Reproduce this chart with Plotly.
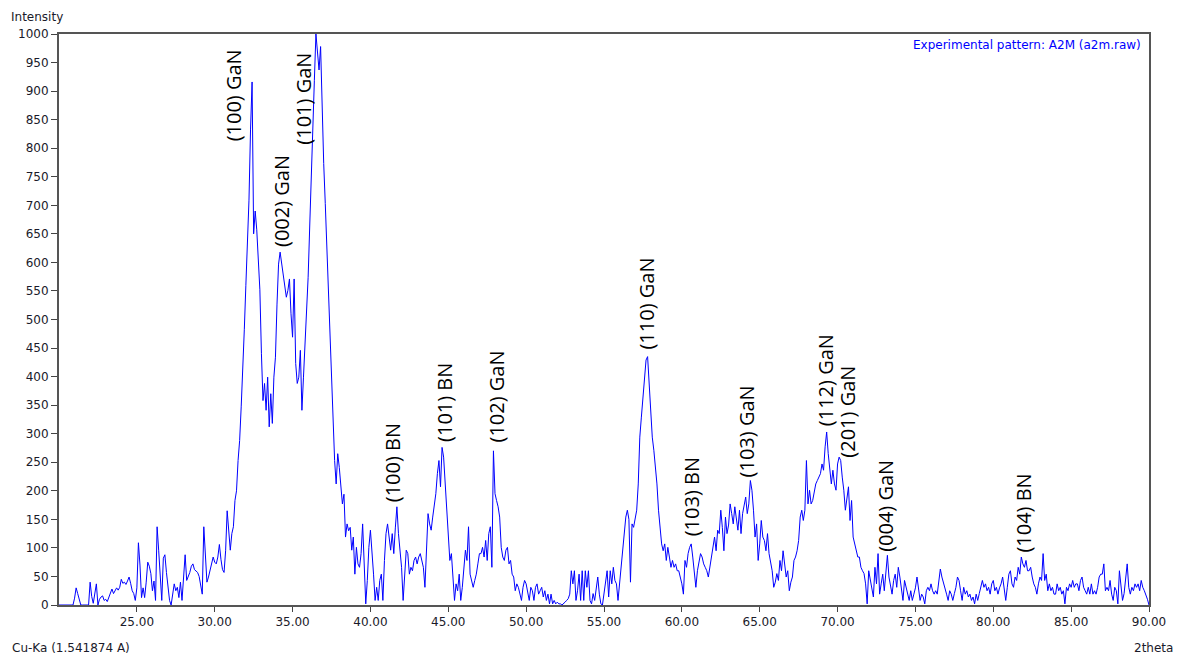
import numpy as np
import plotly.graph_objects as go

# XRD scan: 2theta grid (deg) and measured intensity (counts), 0.1 deg steps
two_theta = np.round(np.arange(20.0, 90.0001, 0.1), 1)

intensity = [
    0, 0, 0, 0, 0, 0, 0, 0, 0, 0,                         # 20
    12, 30, 20, 10, 0, 0, 0, 0, 0, 0,                     # 21
    40, 15, 3, 20, 37, 0, 10, 14, 16, 8,                  # 22
    10, 6, 14, 22, 28, 20, 24, 30, 26, 31,                # 23
    45, 38, 40, 36, 42, 49, 38, 25, 20, 8,                # 24
    30, 109, 70, 13, 30, 13, 40, 75, 68, 55,              # 25
    25, 42, 8, 137, 96, 50, 8, 82, 88, 57,                # 26
    25, 8, 0, 15, 37, 25, 31, 13, 40, 8,                  # 27
    45, 88, 43, 50, 57, 68, 72, 62, 60, 57,               # 28
    50, 37, 19, 137, 90, 40, 49, 60, 70, 84,              # 29
    75, 72, 84, 106, 80, 62, 57, 95, 165, 137,            # 30
    96, 125, 137, 183, 200, 253, 288, 347, 405, 482,      # 31
    560, 634, 709, 832, 916, 650, 690, 657, 610, 552,     # 32
    440, 358, 388, 341, 399, 312, 370, 318, 399, 434,     # 33
    527, 597, 618, 597, 580, 562, 539, 551, 571, 510,     # 34
    469, 571, 423, 388, 399, 446, 341, 399, 458, 510,     # 35
    574, 662, 761, 826, 919, 1000, 972, 937, 978, 855,    # 36
    773, 703, 627, 539, 469, 394, 340, 253, 212, 265,     # 37
    241, 200, 177, 194, 119, 142, 130, 136, 96, 119,      # 38
    54, 101, 72, 66, 90, 142, 78, 2, 43, 101,             # 39
    131, 96, 54, 8, 31, 8, 43, 54, 8, 78,                 # 40
    125, 142, 113, 96, 125, 90, 135, 172, 125, 90,        # 41
    66, 8, 49, 96, 90, 54, 66, 60, 78, 84,                # 42
    72, 84, 90, 78, 66, 31, 113, 160, 142, 131,           # 43
    154, 172, 195, 230, 253, 207, 276, 259, 218, 166,     # 44
    137, 78, 90, 49, 8, 37, 25, 54, 8, 31,                # 45
    70, 96, 78, 137, 54, 43, 31, 43, 54, 72,              # 46
    90, 90, 101, 84, 113, 78, 125, 137, 66, 270,          # 47
    195, 183, 172, 154, 101, 84, 78, 96, 101, 72,         # 48
    78, 54, 49, 25, 37, 31, 19, 8, 31, 43,                # 49
    37, 19, 8, 31, 25, 8, 31, 37, 19, 25,                 # 50
    31, 14, 25, 8, 19, 2, 19, 2, 8, 2,                    # 51
    5, 2, 2, 0, 2, 5, 8, 11, 19, 60,                      # 52
    37, 60, 8, 25, 54, 8, 60, 8, 60, 31,                  # 53
    60, 8, 2, 20, 8, 30, 49, 19, 2, 0,                    # 54
    20, 37, 60, 14, 60, 37, 66, 43, 37, 8,                # 55
    37, 66, 95, 113, 154, 166, 150, 40, 142, 136,         # 56
    154, 166, 212, 294, 329, 364, 399, 429, 435, 388,     # 57
    341, 294, 271, 247, 212, 166, 131, 107, 95, 107,      # 58
    78, 101, 84, 66, 78, 66, 72, 60, 60, 50,              # 59
    37, 19, 78, 66, 90, 101, 107, 84, 60, 31,             # 60
    60, 78, 90, 84, 72, 66, 60, 49, 66, 84,               # 61
    107, 119, 95, 131, 125, 166, 136, 95, 154, 125,       # 62
    140, 177, 160, 142, 172, 154, 131, 166, 125, 160,     # 63
    175, 189, 160, 177, 218, 201, 166, 119, 142, 78,      # 64
    107, 148, 119, 113, 95, 125, 90, 78, 60, 31,          # 65
    40, 55, 43, 78, 60, 95, 66, 49, 60, 25,               # 66
    40, 49, 78, 84, 95, 113, 154, 166, 148, 166,          # 67
    253, 177, 201, 177, 183, 200, 212, 218, 224, 230,     # 68
    247, 236, 277, 303, 265, 242, 212, 236, 212, 201,     # 69
    247, 259, 253, 224, 201, 166, 189, 207, 148, 183,     # 70
    119, 107, 95, 84, 84, 66, 60, 55, 37, 2,              # 71
    60, 43, 31, 14, 66, 37, 90, 19, 37, 54,               # 72
    25, 50, 87, 49, 37, 19, 43, 54, 31, 66,               # 73
    49, 31, 8, 43, 31, 19, 8, 25, 8, 19,                  # 74
    30, 49, 25, 8, 19, 14, 2, 25, 31, 25,                 # 75
    37, 25, 19, 25, 19, 37, 63, 49, 37, 31,               # 76
    19, 8, 25, 19, 8, 20, 31, 49, 43, 25,                 # 77
    8, 31, 19, 25, 14, 19, 8, 14, 2, 19,                  # 78
    8, 20, 31, 43, 31, 37, 25, 31, 19, 37,                # 79
    43, 25, 31, 19, 30, 37, 49, 25, 8, 31,                # 80
    54, 60, 37, 31, 49, 43, 66, 54, 84, 72,               # 81
    66, 78, 60, 60, 66, 49, 37, 31, 19, 37,               # 82
    49, 43, 90, 43, 54, 25, 37, 25, 31, 19,               # 83
    19, 37, 25, 31, 19, 25, 2, 31, 25, 37,                # 84
    31, 43, 31, 37, 37, 25, 43, 49, 31, 25,               # 85
    19, 31, 19, 37, 19, 25, 19, 31, 49, 54,               # 86
    54, 72, 25, 31, 25, 43, 19, 8, 31, 25,                # 87
    2, 60, 31, 8, 20, 49, 72, 31, 19, 31,                 # 88
    25, 37, 31, 37, 25, 43, 31, 25, 19, 10,               # 89
    0,                                                    # 90
]

# Reflection labels: text, 2theta of the label centre, intensity at the label foot
peak_labels = ["(100) GaN", "(002) GaN", "(101) GaN", "(100) BN", "(101) BN",
               "(102) GaN", "(110) GaN", "(103) BN", "(103) GaN", "(112) GaN",
               "(201) GaN", "(004) GaN", "(104) BN"]
peak_label_x = [31.23, 34.25, 35.69, 41.41, 44.79, 48.07, 57.71, 60.60,
                64.13, 69.24, 70.66, 73.07, 81.94]
peak_label_y = [810, 625, 805, 178, 283, 283, 446, 118, 222, 311, 256, 92, 90]

x_ticks = [25, 30, 35, 40, 45, 50, 55, 60, 65, 70, 75, 80, 85, 90]
y_ticks = list(range(0, 1001, 50))

AXIS_FONT = dict(family="DejaVu Sans", size=12, color="#1a1a2a")
LABEL_FONT = dict(family="Open Sans", size=20, color="#000000")

fig = go.Figure()
fig.add_trace(go.Scatter(
    x=two_theta, y=intensity, mode="lines",
    line=dict(color="#0000ff", width=1),
    showlegend=False, hoverinfo="x+y",
))

annotations = []
for text, px, py in zip(peak_labels, peak_label_x, peak_label_y):
    annotations.append(dict(
        x=px, y=py, xref="x", yref="y", text=text, showarrow=False,
        textangle=-90, xanchor="center", yanchor="bottom",
        font=LABEL_FONT, borderpad=0,
    ))

annotations += [
    dict(x=0.9945, y=0.980, xref="paper", yref="paper", showarrow=False,
         text="Experimental pattern: A2M (a2m.raw)", xanchor="right",
         yanchor="middle", font=dict(family="DejaVu Sans", size=12, color="#0000ff")),
    dict(x=-0.046, y=1.029, xref="paper", yref="paper", showarrow=False,
         text="Intensity", xanchor="left", yanchor="middle", font=AXIS_FONT),
    dict(x=-0.045, y=-0.076, xref="paper", yref="paper", showarrow=False,
         text="Cu-Ka (1.541874 A)", xanchor="left", yanchor="middle", font=AXIS_FONT),
    dict(x=1.024, y=-0.076, xref="paper", yref="paper", showarrow=False,
         text="2theta", xanchor="right", yanchor="middle", font=AXIS_FONT),
]

fig.update_layout(
    width=1182, height=656,
    margin=dict(l=59, r=33, t=34, b=51),
    paper_bgcolor="#ffffff", plot_bgcolor="#ffffff",
    annotations=annotations,
    xaxis=dict(
        range=[20, 90], tickvals=x_ticks,
        ticktext=[f"{v:.2f}" for v in x_ticks],
        ticks="outside", ticklen=5, tickcolor="#444", tickwidth=1,
        showline=True, linecolor="#555", linewidth=2, mirror=True,
        showgrid=False, zeroline=False, tickfont=AXIS_FONT,
    ),
    yaxis=dict(
        range=[0, 1000], tickvals=y_ticks,
        ticks="outside", ticklen=6, tickcolor="#444", tickwidth=1,
        showline=True, linecolor="#555", linewidth=2, mirror=True,
        showgrid=False, zeroline=False, tickfont=AXIS_FONT,
    ),
)

fig.write_html("out.html")
